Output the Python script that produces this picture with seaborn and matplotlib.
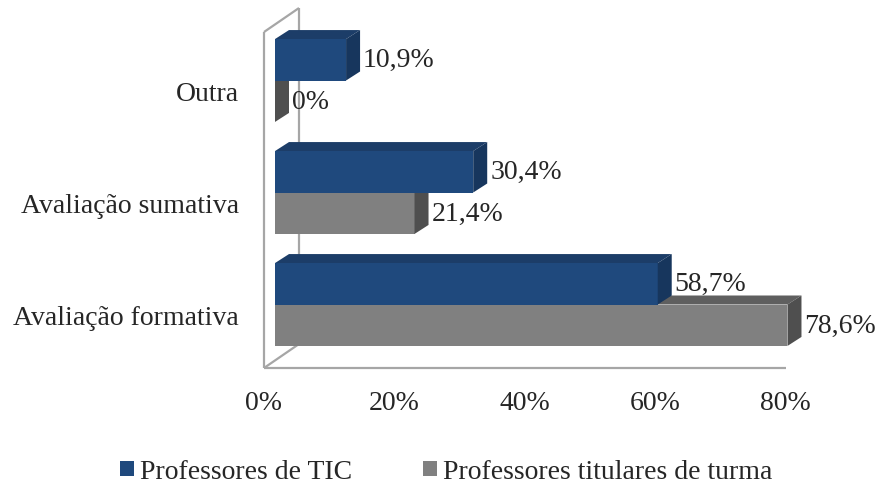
import pandas as pd
import seaborn as sns
import matplotlib.pyplot as plt
from matplotlib.patches import Polygon, Patch
from matplotlib.transforms import ScaledTranslation

# Dados
categorias = ['Outra', 'Avaliação sumativa', 'Avaliação formativa']
grupos = ['Professores de TIC', 'Professores titulares de turma']
tic = [10.9, 30.4, 58.7]
titulares = [0.0, 21.4, 78.6]
rotulos_tic = ['10,9%', '30,4%', '58,7%']
rotulos_tit = ['0%', '21,4%', '78,6%']
ticks_x = [0, 20, 40, 60, 80]
ticks_lbl = ['0%', '20%', '40%', '60%', '80%']

df = pd.DataFrame({
    'categoria': categorias * 2,
    'grupo': [grupos[0]] * 3 + [grupos[1]] * 3,
    'valor': tic + titulares,
})

azul, azul_topo, azul_lado = '#1F497D', '#1C3D68', '#17365D'
cinza, cinza_topo, cinza_lado = '#808080', '#5F5F5F', '#4F4F4F'
parede = '#A6A6A6'

sns.set_style('white')
plt.rcParams['font.family'] = ['Liberation Serif', 'DejaVu Serif']
fs = 20

W, H = 877, 485
fig = plt.figure(figsize=(W / 100, H / 100), dpi=100)
ax_w, ax_h = 521.6, 336
ax = fig.add_axes([275 / W, (H - 361.5) / H, ax_w / W, ax_h / H])

sns.barplot(data=df, x='valor', y='categoria', hue='grupo', order=categorias,
            hue_order=grupos, orient='h', palette=[azul, cinza], width=0.74,
            saturation=1, legend=False, ax=ax)
ax.set_xlim(0, 80)
ax.set_ylim(2.5, -0.5)

# px -> dados
px_x = ax_w / 80
px_y = ax_h / 3
dx, dy = 14 / px_x, 9 / px_y          # profundidade das barras
fx, fy = -11 / px_x, 7.5 / px_y       # plano frontal do chão
bx, by = 24 / px_x, -16.5 / px_y      # plano de trás

# faces 3D
cores = [(azul_topo, azul_lado, 3), (cinza_topo, cinza_lado, 1)]
for cont, (ctopo, clado, z) in zip(ax.containers, cores):
    for bar in cont:
        x0, y0 = bar.get_x(), bar.get_y()
        w, h = bar.get_width(), bar.get_height()
        y_top, y_bot = y0, y0 + h
        bar.set_zorder(z + 1)
        bar.set_edgecolor('none')
        topo = Polygon([(x0, y_top), (x0 + w, y_top), (x0 + w + dx, y_top - dy),
                        (x0 + dx, y_top - dy)], closed=True, fc=ctopo, ec='none',
                       zorder=z, clip_on=False)
        lado = Polygon([(x0 + w, y_top), (x0 + w + dx, y_top - dy),
                        (x0 + w + dx, y_bot - dy), (x0 + w, y_bot)], closed=True,
                       fc=clado, ec='none', zorder=z + 1.5, clip_on=False)
        ax.add_patch(topo)
        ax.add_patch(lado)

# parede lateral e chão
lw = 1.6
kw = dict(color=parede, lw=lw, clip_on=False, zorder=0.5, solid_capstyle='butt')
ax.plot([fx, fx], [-0.5 + fy, 2.5 + fy], **kw)
ax.plot([bx, bx], [-0.5 + by, 2.5 + by], **kw)
ax.plot([fx, bx], [-0.5 + fy, -0.5 + by], **kw)
ax.plot([fx, bx], [2.5 + fy, 2.5 + by], **kw)
ax.plot([fx, 80 + fx], [2.5 + fy, 2.5 + fy], **kw)

# rótulos de dados
for cont, rot in zip(ax.containers, [rotulos_tic, rotulos_tit]):
    for bar, txt in zip(cont, rot):
        ax.text(bar.get_width() + 17 / px_x, bar.get_y() + bar.get_height() / 2, txt,
                ha='left', va='center', fontsize=fs, clip_on=False, zorder=6)

# eixos
for s in ax.spines.values():
    s.set_visible(False)
ax.set_xlabel('')
ax.set_ylabel('')
ax.set_xticks(ticks_x)
ax.set_xticklabels(ticks_lbl, fontsize=fs)
ax.tick_params(axis='x', length=0, pad=21)
ax.tick_params(axis='y', length=0, pad=26, labelsize=fs)
for lab in ax.get_xticklabels():
    lab.set_transform(lab.get_transform() + ScaledTranslation(-0.11, 0, fig.dpi_scale_trans))
for lab in ax.get_yticklabels():
    lab.set_transform(lab.get_transform() + ScaledTranslation(0, -0.10, fig.dpi_scale_trans))
ax.patch.set_alpha(0)

# legenda
handles = [Patch(fc=azul, ec='none'), Patch(fc=cinza, ec='none')]
fig.legend(handles, grupos, loc='center', bbox_to_anchor=(0.5086, 0.025), ncol=2,
           frameon=False, fontsize=fs, handlelength=0.5, handleheight=0.5,
           handletextpad=0.22, columnspacing=2.55, borderpad=0, borderaxespad=0)

fig.savefig('out.png', dpi=100)
